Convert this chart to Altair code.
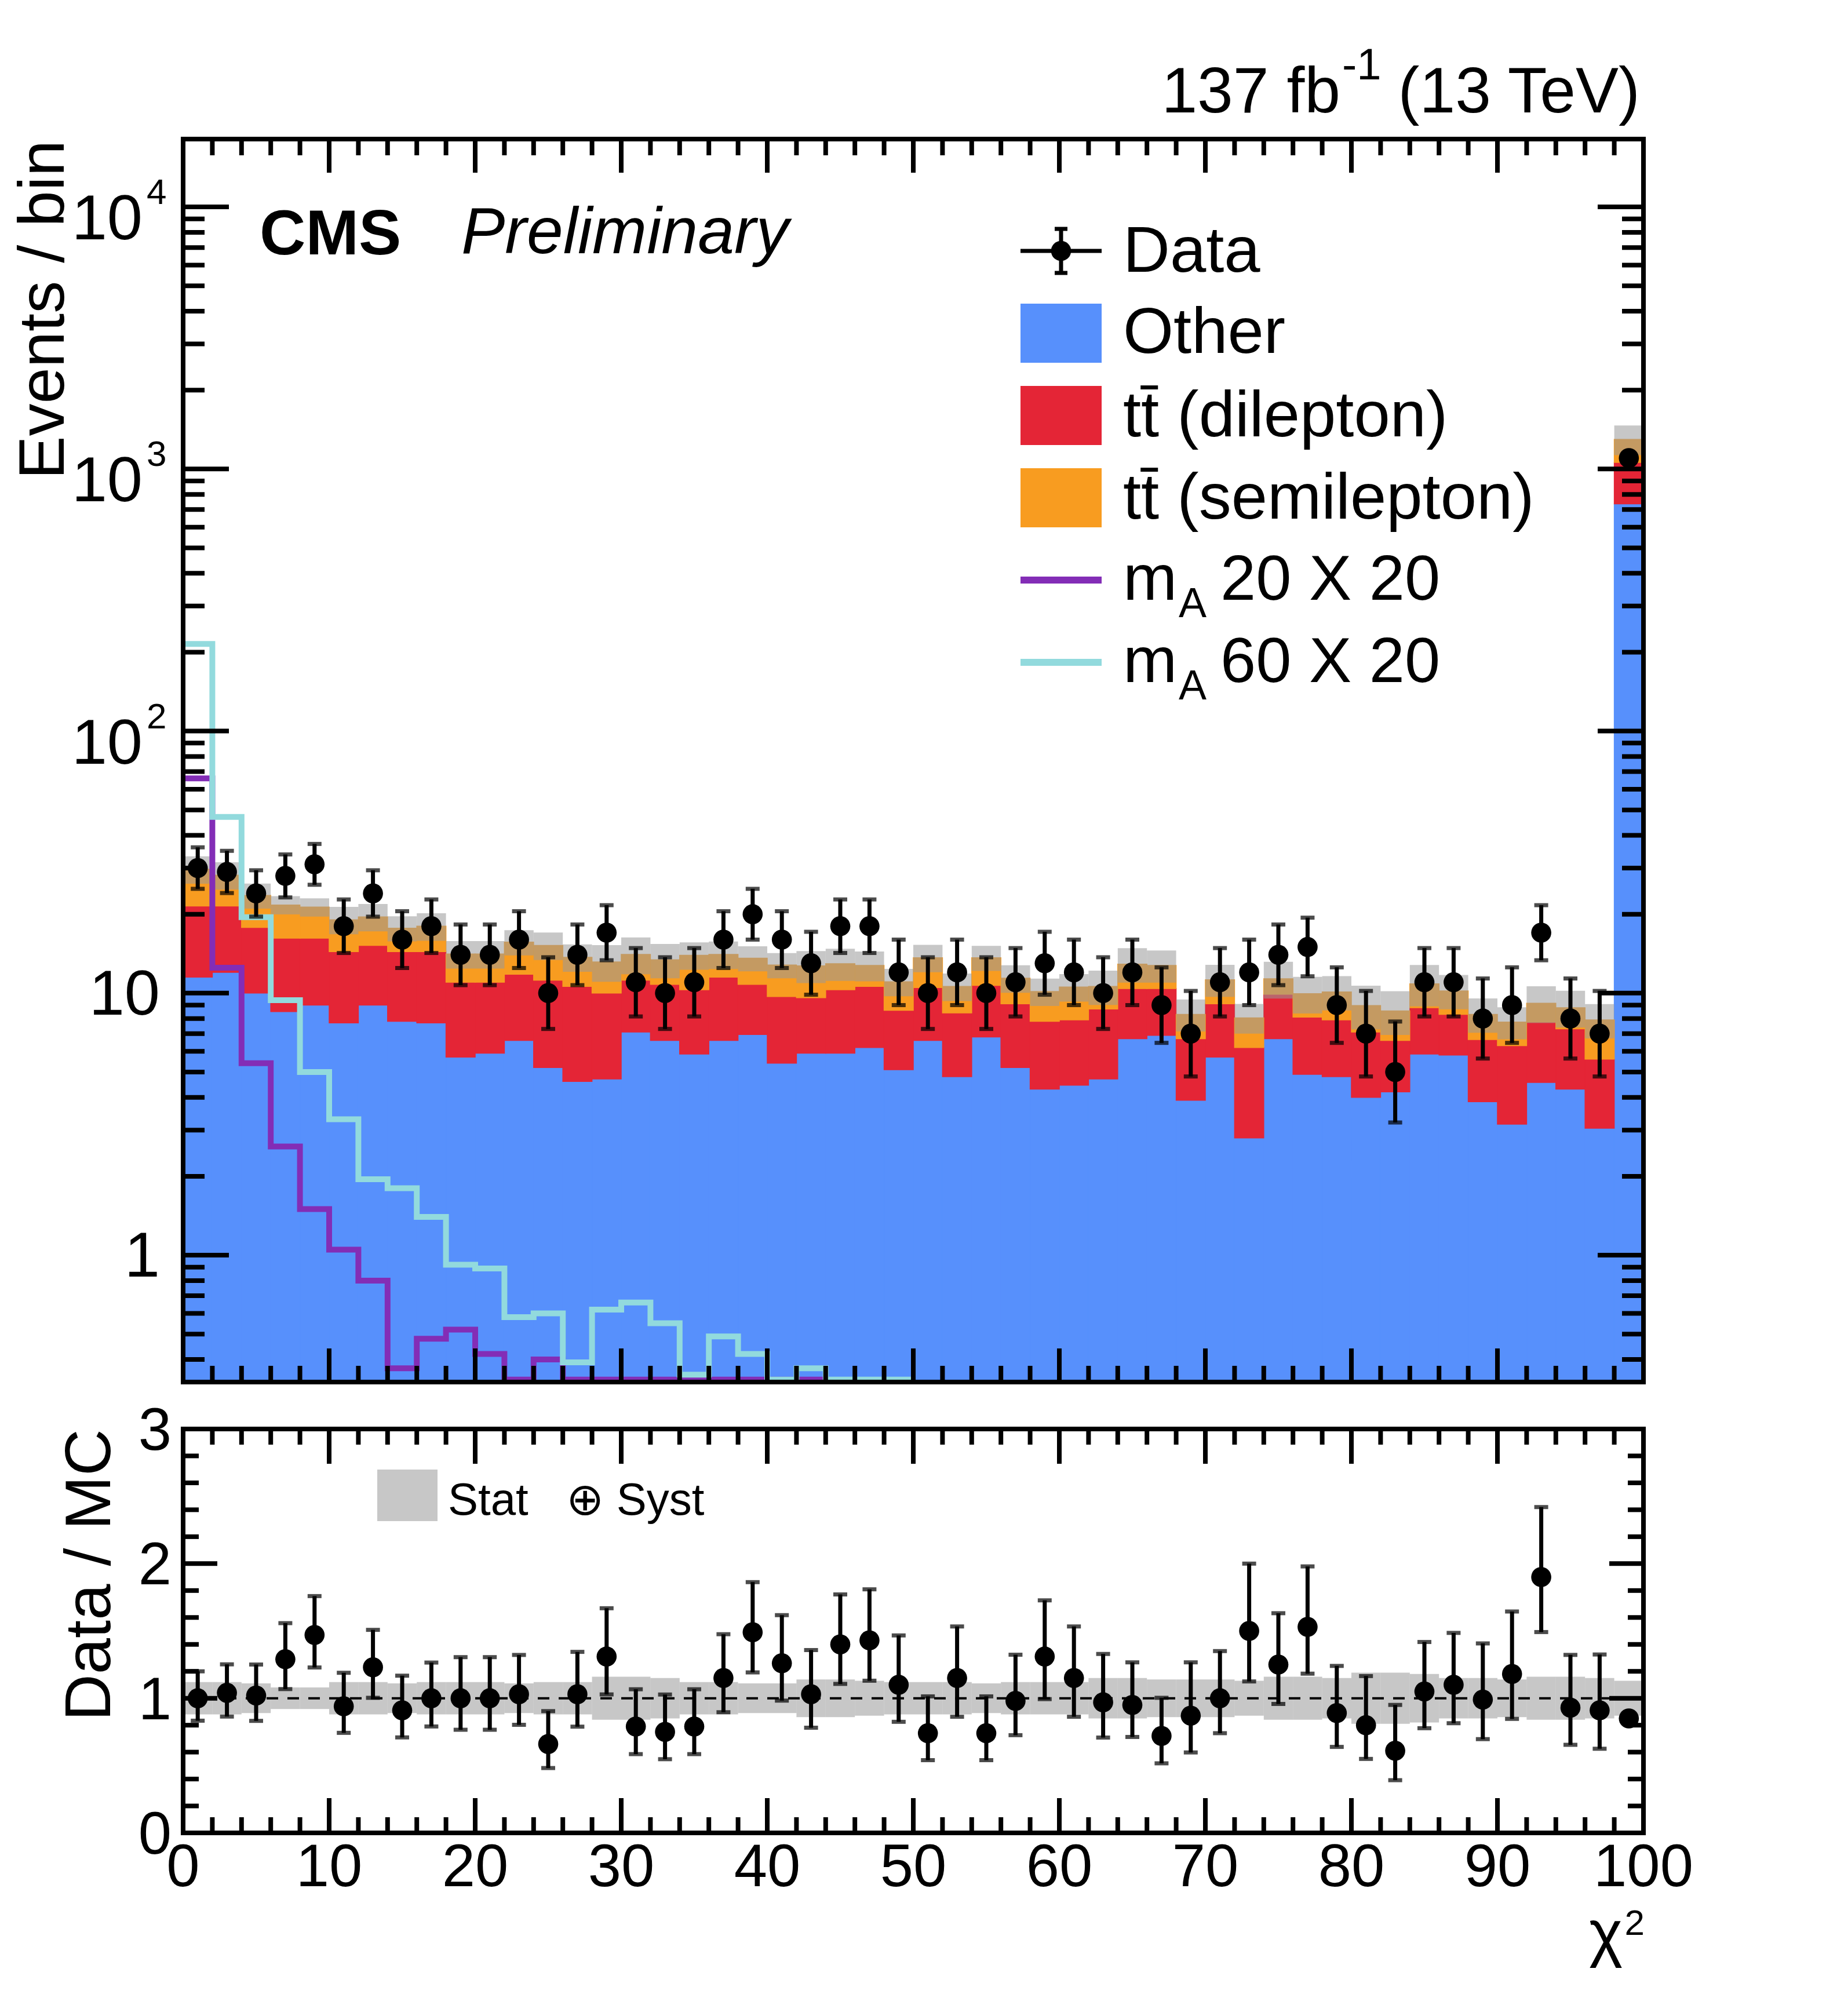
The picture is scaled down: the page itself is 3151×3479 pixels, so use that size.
import altair as alt
import numpy as np
import pandas as pd

FONT = "Liberation Sans"
W, H_TOP, H_BOT = 2520, 2145, 697
GAP = 81
TICK_W = 8
FRAME_W = 8

C_OTHER = "#5790fc"
C_DILEP = "#e42536"
C_SEMI = "#f89c20"
C_SIG20 = "#832db6"
C_SIG60 = "#92dadd"
C_HATCH = "#999999"

# 50 bins of width 2 in chi2 (the last one holds the overflow)
edges = list(range(0, 101, 2))

other = [11.5, 12.0, 10.0, 8.5, 9.0, 7.7, 9.0, 7.8, 7.7, 5.7,
         5.9, 6.6, 5.2, 4.6, 4.7, 7.1, 6.6, 5.85, 6.6, 6.95,
         5.4, 5.9, 5.9, 6.2, 5.1, 6.6, 4.8, 6.8, 5.2, 4.3,
         4.45, 4.7, 6.7, 6.9, 3.9, 5.7, 2.8, 6.7, 4.9, 4.8,
         4.0, 4.2, 5.85, 5.8, 3.85, 3.16, 4.56, 4.3, 3.05, 736]
tt_dilep = [10.0, 9.5, 7.8, 7.7, 7.2, 6.7, 6.2, 6.6, 6.7, 5.3,
            5.1, 5.2, 6.0, 6.0, 5.3, 4.1, 4.2, 4.45, 4.9, 3.85,
            4.3, 3.7, 4.4, 4.4, 3.5, 3.9, 3.6, 3.9, 3.9, 3.5,
            3.45, 4.0, 3.7, 3.5, 2.8, 3.4, 3.4, 3.2, 3.2, 3.1,
            3.1, 2.4, 2.95, 2.5, 2.8, 3.14, 3.19, 3.0, 2.55, 324]
tt_semilep = [8.2, 6.7, 5.8, 5.5, 5.1, 4.65, 4.35, 3.3, 3.6, 3.1,
              3.1, 3.85, 4.0, 3.1, 3.15, 2.85, 2.6, 3.65, 2.55, 2.8,
              3.1, 3.1, 2.65, 2.15, 2.45, 3.15, 2.2, 2.95, 2.3, 2.35,
              2.65, 1.9, 2.5, 2.35, 1.6, 2.15, 1.85, 1.45, 1.85, 2.2,
              1.87, 1.95, 2.05, 1.9, 1.65, 1.45, 1.4, 1.5, 2.3, 237]
unc_rel = [0.12, 0.12, 0.11, 0.08, 0.08, 0.12, 0.12, 0.11, 0.12, 0.12,
           0.12, 0.11, 0.12, 0.12, 0.16, 0.16, 0.15, 0.12, 0.12, 0.11,
           0.11, 0.14, 0.14, 0.13, 0.12, 0.12, 0.12, 0.11, 0.12, 0.12,
           0.12, 0.15, 0.15, 0.14, 0.14, 0.14, 0.13, 0.16, 0.16, 0.15,
           0.19, 0.19, 0.18, 0.15, 0.15, 0.14, 0.16, 0.16, 0.15, 0.13]
data_obs = [30, 29, 24, 28, 31, 18, 24, 16, 18, 14,
            14, 16, 10, 14, 17, 11, 10, 11, 16, 20,
            16, 13, 18, 18, 12, 10, 12, 10, 11, 13,
            12, 10, 12, 9, 7, 11, 12, 14, 15, 9,
            7, 5, 11, 11, 8, 9, 17, 8, 7, 1100]
ratio = [1.00, 1.04, 1.02, 1.29, 1.47, 0.94, 1.23, 0.91, 1.00, 1.00,
         1.00, 1.03, 0.66, 1.03, 1.31, 0.79, 0.75, 0.79, 1.15, 1.49,
         1.26, 1.03, 1.40, 1.43, 1.10, 0.74, 1.15, 0.74, 0.98, 1.31,
         1.15, 0.97, 0.95, 0.72, 0.87, 1.00, 1.50, 1.25, 1.53, 0.89,
         0.80, 0.61, 1.05, 1.10, 0.99, 1.18, 1.90, 0.93, 0.91, 0.85]
# signal step histograms (bins below the frame are drawn on its bottom edge)
sig_20 = [66, 12.5, 5.4, 2.6, 1.5, 1.05, 0.8, 0.37, 0.48, 0.52, 0.42,
          0.335, 0.4, 0.335, 0.335, 0.335, 0.335, 0.335, 0.335, 0.335, 0.335, 0.335]
sig_60 = [215, 47, 19.5, 9.4, 5.0, 3.3, 1.95, 1.8, 1.4, 0.92, 0.89, 0.58,
          0.6, 0.39, 0.62, 0.66, 0.55, 0.35, 0.49, 0.42, 0.335, 0.37, 0.335, 0.335, 0.335]

bins = pd.DataFrame({
    "lo": edges[:-1], "hi": edges[1:],
    "other": other, "dilep": tt_dilep, "semi": tt_semilep,
    "unc": unc_rel, "data": data_obs, "ratio": ratio,
})
bins["mid"] = (bins["lo"] + bins["hi"]) / 2
bins["c1"] = bins["other"]
bins["c2"] = bins["c1"] + bins["dilep"]
bins["c3"] = bins["c2"] + bins["semi"]
bins["band_lo"] = bins["c3"] * (1 - bins["unc"])
bins["band_hi"] = bins["c3"] * (1 + bins["unc"])
err = np.sqrt(bins["data"] + 0.25)
bins["d_lo"] = bins["data"] - (err - 0.5)
bins["d_hi"] = bins["data"] + (err + 0.5)
bins["r_lo"] = bins["ratio"] * bins["d_lo"] / bins["data"]
bins["r_hi"] = bins["ratio"] * bins["d_hi"] / bins["data"]
bins["rb_lo"] = 1 - bins["unc"]
bins["rb_hi"] = 1 + bins["unc"]


def step_frame(values):
    n = len(values)
    return pd.DataFrame({"x": edges[:n + 1], "y": list(values) + [values[-1]]})


x_scale = alt.Scale(domain=[0, 100], nice=False, zero=False)
y_top = alt.Scale(type="log", domain=[0.328, 18150], nice=False, clamp=True)
y_bot = alt.Scale(domain=[0, 3], nice=False, zero=False)


def xq(field):
    return alt.X(f"{field}:Q", scale=x_scale, axis=None)


def yq(field, scale):
    return alt.Y(f"{field}:Q", scale=scale, axis=None)


one_row = pd.DataFrame({"k": [0]})


def text(label, x, y, size, **kw):
    kw.setdefault("align", "left")
    kw.setdefault("baseline", "alphabetic")
    return alt.Chart(one_row).mark_text(
        text=label, font=FONT, fontSize=size, color="black", **kw
    ).encode(x=alt.value(x), y=alt.value(y))


def box(x1, x2, y1, y2, **kw):
    return alt.Chart(one_row).mark_rect(**kw).encode(
        x=alt.value(x1), x2=alt.value(x2), y=alt.value(y1), y2=alt.value(y2))


def seg(x1, x2, y1, y2, width, color="black"):
    return alt.Chart(one_row).mark_rule(color=color, strokeWidth=width).encode(
        x=alt.value(x1), x2=alt.value(x2), y=alt.value(y1), y2=alt.value(y2))


def y_ticks(values, scale, length):
    c = alt.Chart(pd.DataFrame({"v": values})).mark_rule(color="black", strokeWidth=TICK_W)
    return (c.encode(y=yq("v", scale), x=alt.value(0), x2=alt.value(length))
            + c.encode(y=yq("v", scale), x=alt.value(W - length), x2=alt.value(W)))


def x_ticks(values, height, length):
    c = alt.Chart(pd.DataFrame({"v": values})).mark_rule(color="black", strokeWidth=TICK_W)
    return (c.encode(x=xq("v"), y=alt.value(height - length), y2=alt.value(height))
            + c.encode(x=xq("v"), y=alt.value(0), y2=alt.value(length)))


def data_points(lo_field, hi_field, val_field, scale):
    base = alt.Chart(bins)
    bar = base.mark_rule(color="black", strokeWidth=7).encode(
        x=xq("mid"), y=yq(lo_field, scale), y2=f"{hi_field}:Q")
    cap_lo = base.mark_tick(orient="horizontal", size=24, thickness=7, color="black").encode(
        x=xq("mid"), y=yq(lo_field, scale))
    cap_hi = base.mark_tick(orient="horizontal", size=24, thickness=7, color="black").encode(
        x=xq("mid"), y=yq(hi_field, scale))
    dot = base.mark_circle(size=1200, color="black", opacity=1).encode(
        x=xq("mid"), y=yq(val_field, scale))
    return bar + cap_lo + cap_hi + dot


x_major = list(range(0, 101, 10))
x_minor = [v for v in range(2, 100, 2) if v % 10]

# ---------------- upper panel ----------------
base = alt.Chart(bins)
stack_other = base.mark_rect(color=C_OTHER, stroke=C_OTHER, strokeWidth=1.5).encode(
    x=xq("lo"), x2="hi:Q", y=yq("c1", y_top), y2=alt.value(H_TOP))
stack_dilep = base.mark_rect(color=C_DILEP, stroke=C_DILEP, strokeWidth=1.5).encode(
    x=xq("lo"), x2="hi:Q", y=yq("c2", y_top), y2="c1:Q")
stack_semi = base.mark_rect(color=C_SEMI, stroke=C_SEMI, strokeWidth=1.5).encode(
    x=xq("lo"), x2="hi:Q", y=yq("c3", y_top), y2="c2:Q")
band = base.mark_rect(color=C_HATCH, opacity=0.55).encode(
    x=xq("lo"), x2="hi:Q", y=yq("band_hi", y_top), y2="band_lo:Q")

line20 = alt.Chart(step_frame(sig_20)).mark_line(
    interpolate="step-after", color=C_SIG20, strokeWidth=10).encode(x=xq("x"), y=yq("y", y_top))
line60 = alt.Chart(step_frame(sig_60)).mark_line(
    interpolate="step-after", color=C_SIG60, strokeWidth=10).encode(x=xq("x"), y=yq("y", y_top))

y_major_top = [1, 10, 100, 1000, 10000]
y_minor_top = [m * 10 ** e for e in range(-1, 5) for m in range(2, 10)
               if 0.328 < m * 10 ** e < 18150]

exp_labels = pd.DataFrame({"v": [10000, 1000, 100], "exp": ["4", "3", "2"]})
plain_labels = pd.DataFrame({"v": [10, 1], "lab": ["10", "1"]})
ylab_base = alt.Chart(exp_labels).mark_text(
    text="10", font=FONT, fontSize=110, align="right", baseline="alphabetic", dy=56).encode(
    y=yq("v", y_top), x=alt.value(-70))
ylab_exp = alt.Chart(exp_labels).mark_text(
    font=FONT, fontSize=62, align="left", baseline="alphabetic", dy=-5).encode(
    y=yq("v", y_top), x=alt.value(-63), text="exp:N")
ylab_plain = alt.Chart(plain_labels).mark_text(
    font=FONT, fontSize=110, align="right", baseline="middle", dy=4).encode(
    y=yq("v", y_top), x=alt.value(-40), text="lab:N")

rows = [193, 335, 477, 619, 761, 903]
LX1, LX2, TX = 1445, 1585, 1622
legend = [
    seg(LX1, LX2, rows[0], rows[0], 7),
    seg(1515, 1515, rows[0] - 38, rows[0] + 38, 7),
    seg(1504, 1526, rows[0] - 38, rows[0] - 38, 7),
    seg(1504, 1526, rows[0] + 38, rows[0] + 38, 7),
    alt.Chart(one_row).mark_circle(size=1200, color="black", opacity=1).encode(
        x=alt.value(1515), y=alt.value(rows[0])),
    text("Data", TX, rows[0] + 36, 112),
    box(LX1, LX2, rows[1] - 51, rows[1] + 51, color=C_OTHER),
    text("Other", TX, rows[1] + 34, 112),
    box(LX1, LX2, rows[2] - 51, rows[2] + 51, color=C_DILEP),
    text("tt\u0304 (dilepton)", TX, rows[2] + 36, 112),
    box(LX1, LX2, rows[3] - 51, rows[3] + 51, color=C_SEMI),
    text("tt\u0304 (semilepton)", TX, rows[3] + 36, 112),
    seg(LX1, LX2, rows[4], rows[4], 12, C_SIG20),
    text("m", TX, rows[4] + 34, 112),
    text("A", 1718, rows[4] + 64, 72),
    text("20 X 20", 1790, rows[4] + 34, 110),
    seg(LX1, LX2, rows[5], rows[5], 12, C_SIG60),
    text("m", TX, rows[5] + 34, 112),
    text("A", 1718, rows[5] + 64, 72),
    text("60 X 20", 1790, rows[5] + 34, 110),
]

top = alt.layer(
    box(-308, -303, -232, -227, opacity=0),
    stack_other, stack_dilep, stack_semi, band,
    line20, line60,
    data_points("d_lo", "d_hi", "data", y_top),
    y_ticks(y_major_top, y_top, 79),
    y_ticks(y_minor_top, y_top, 37),
    x_ticks(x_major, H_TOP, 58),
    x_ticks(x_minor, H_TOP, 28),
    box(0, W, 0, H_TOP, filled=False, stroke="black", strokeWidth=FRAME_W),
    ylab_base, ylab_exp, ylab_plain,
    text("Events / bin", -206, 2, 112, angle=270, align="right"),
    text("137 fb", W - 523, -46, 111, align="right"),
    text("-1", W - 520, -103, 76),
    text("(13 TeV)", W - 6, -46, 111, align="right"),
    text("CMS", 132, 199, 110, fontWeight="bold"),
    text("Preliminary", 480, 197, 113, fontStyle="italic"),
    *legend,
).properties(width=W, height=H_TOP)

# ---------------- ratio panel ----------------
r_band = base.mark_rect(color=C_HATCH, opacity=0.55).encode(
    x=xq("lo"), x2="hi:Q", y=yq("rb_hi", y_bot), y2="rb_lo:Q")
unit_line = alt.Chart(pd.DataFrame({"one": [1.0]})).mark_rule(
    color="black", strokeWidth=4, strokeDash=[20, 16]).encode(
    y=yq("one", y_bot), x=alt.value(0), x2=alt.value(W))

y_major_bot = [0, 1, 2, 3]
y_minor_bot = [round(0.2 * i, 1) for i in range(1, 15) if i % 5]

xlab = pd.DataFrame({"v": x_major, "lab": [str(v) for v in x_major]})
xlab_bot = alt.Chart(xlab).mark_text(
    font=FONT, fontSize=103, align="center", baseline="alphabetic").encode(
    x=xq("v"), y=alt.value(H_BOT + 92), text="lab:N")
ylab = pd.DataFrame({"v": y_major_bot, "lab": [str(v) for v in y_major_bot]})
ylab_bot = alt.Chart(ylab).mark_text(
    font=FONT, fontSize=103, align="right", baseline="middle", dy=5).encode(
    y=yq("v", y_bot), x=alt.value(-20), text="lab:N")

bottom = alt.layer(
    r_band, unit_line,
    data_points("r_lo", "r_hi", "ratio", y_bot),
    y_ticks(y_major_bot, y_bot, 59),
    y_ticks(y_minor_bot, y_bot, 27),
    x_ticks(x_major, H_BOT, 60),
    x_ticks(x_minor, H_BOT, 27),
    box(0, W, 0, H_BOT, filled=False, stroke="black", strokeWidth=FRAME_W),
    xlab_bot, ylab_bot,
    text("Data / MC", -126, 0, 112, angle=270, align="right"),
    text("\u03c7", W - 36, H_BOT + 210, 110, align="right"),
    text("2", W + 2, H_BOT + 176, 62, align="right"),
    box(335, 439, 70, 159, color=C_HATCH, opacity=0.55),
    text("Stat", 457, 148, 78),
    text("\u2295 Syst", 661, 148, 78),
).properties(width=W, height=H_BOT)

chart = alt.vconcat(top, bottom, spacing=GAP, bounds="flush").properties(
    padding={"left": 0, "top": 0, "right": 20, "bottom": 20}
).configure_view(strokeWidth=0)

chart.save("out.html", embed_options={"renderer": "svg", "actions": False})
